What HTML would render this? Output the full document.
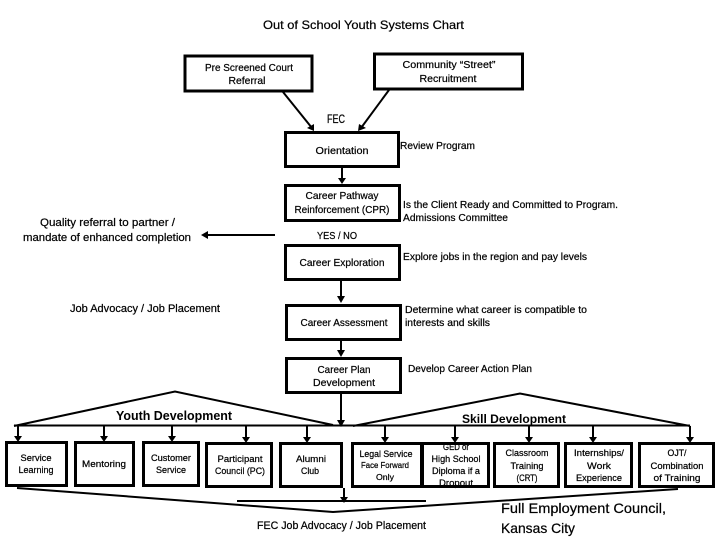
<!DOCTYPE html>
<html><head><meta charset="utf-8"><style>
html,body{margin:0;padding:0;background:#fff}
svg{display:block}
text{font-family:"Liberation Sans",sans-serif;fill:#000;stroke:#000;stroke-width:.22;font-size:10.500px}
.h{font-weight:bold;stroke-width:0}
.b{fill:#fff;stroke:#000;stroke-width:3}
.l{fill:none;stroke:#000;stroke-width:2}
.a{fill:#000}
</style></head><body>
<svg width="720" height="540" viewBox="0 0 720 540" xmlns="http://www.w3.org/2000/svg">
<text x="263" y="29" textLength="201" lengthAdjust="spacingAndGlyphs" style="font-size:12px">Out of School Youth Systems Chart</text>

<polyline class="l" points="283,92 312,128"/><polygon class="a" points="307,128 314,124 314,131"/>
<polyline class="l" points="389,90 361,128"/><polygon class="a" points="359,124 366,128 358,131"/>
<line class="l" x1="342" y1="167" x2="342" y2="181"/><polygon class="a" points="338,178 346,178 342,184"/>
<line class="l" x1="341" y1="280" x2="341" y2="300"/><polygon class="a" points="337,296 345,296 341,303"/>
<line class="l" x1="341" y1="340" x2="341" y2="354"/><polygon class="a" points="337,350 345,350 341,357"/>
<line class="l" x1="275" y1="235" x2="204" y2="235"/><polygon class="a" points="201,235 208,231 208,239"/>

<rect class="b" x="185" y="56" width="127" height="35"/>
<rect class="b" x="374.500" y="54" width="148" height="35"/>
<rect class="b" x="285.500" y="132.500" width="113" height="34"/>
<rect class="b" x="285.500" y="185.500" width="114" height="35"/>
<rect class="b" x="285.500" y="245.500" width="114" height="34"/>
<rect class="b" x="286.500" y="305.500" width="114" height="34"/>
<rect class="b" x="286.500" y="358.500" width="114" height="34"/>

<polyline class="l" points="14,426 175,391.500 333,425"/>
<polyline class="l" points="353,426 520,393.500 690,426"/>
<line class="l" x1="14" y1="425.500" x2="690" y2="425.500"/>
<line class="l" x1="341" y1="393" x2="341" y2="424"/><polygon class="a" points="337,420 345,420 341,427"/>

<g class="l">
<line x1="18" y1="426" x2="18" y2="440"/><line x1="104" y1="426" x2="104" y2="440"/><line x1="172" y1="426" x2="172" y2="440"/><line x1="246" y1="426" x2="246" y2="441"/><line x1="307" y1="426" x2="307" y2="441"/>
<line x1="385" y1="426" x2="385" y2="441"/><line x1="455" y1="426" x2="455" y2="441"/><line x1="529" y1="426" x2="529" y2="441"/><line x1="593" y1="426" x2="593" y2="441"/><line x1="690" y1="426" x2="690" y2="441"/>
</g>
<g class="a">
<polygon points="14,436 22,436 18,442"/><polygon points="100,436 108,436 104,442"/><polygon points="168,436 176,436 172,442"/><polygon points="242,437 250,437 246,443"/><polygon points="303,437 311,437 307,443"/>
<polygon points="381,437 389,437 385,443"/><polygon points="451,437 459,437 455,443"/><polygon points="525,437 533,437 529,443"/><polygon points="589,437 597,437 593,443"/><polygon points="686,437 694,437 690,443"/>
</g>

<rect class="b" x="6.500" y="442.500" width="60" height="43"/>
<rect class="b" x="75.500" y="442.500" width="58" height="43"/>
<rect class="b" x="143.500" y="442.500" width="55" height="43"/>
<rect class="b" x="206.500" y="443.500" width="65" height="43"/>
<rect class="b" x="280.500" y="443.500" width="61" height="43"/>
<rect class="b" x="352.500" y="443.500" width="69" height="43"/>
<rect class="b" x="422.500" y="443.500" width="66" height="43"/>
<rect class="b" x="494.500" y="443.500" width="64" height="43"/>
<rect class="b" x="565.500" y="443.500" width="66" height="43"/>
<rect class="b" x="639.500" y="443.500" width="74" height="43"/>

<polyline class="l" points="17,488 333,512 678,489"/>
<line class="l" x1="237" y1="501" x2="426" y2="501"/>
<line class="l" x1="344" y1="488" x2="344" y2="500"/><polygon class="a" points="340,497 348,497 344,503"/>

<g text-anchor="middle">
<text x="249" y="71" textLength="88" lengthAdjust="spacingAndGlyphs">Pre Screened Court</text>
<text x="247" y="84" textLength="37" lengthAdjust="spacingAndGlyphs">Referral</text>
<text x="449" y="68" textLength="93" lengthAdjust="spacingAndGlyphs">Community “Street”</text>
<text x="448" y="82" textLength="57" lengthAdjust="spacingAndGlyphs">Recruitment</text>
<text x="336" y="123" textLength="18" lengthAdjust="spacingAndGlyphs" style="font-size:12px">FEC</text>
<text x="342" y="154" textLength="53" lengthAdjust="spacingAndGlyphs">Orientation</text>
<text x="342" y="199" textLength="73" lengthAdjust="spacingAndGlyphs">Career Pathway</text>
<text x="342" y="213" textLength="95" lengthAdjust="spacingAndGlyphs">Reinforcement (CPR)</text>
<text x="337" y="239" textLength="40" lengthAdjust="spacingAndGlyphs">YES / NO</text>
<text x="342" y="266" textLength="85" lengthAdjust="spacingAndGlyphs">Career Exploration</text>
<text x="344" y="326" textLength="87" lengthAdjust="spacingAndGlyphs">Career Assessment</text>
<text x="344" y="373" textLength="53" lengthAdjust="spacingAndGlyphs">Career Plan</text>
<text x="344" y="386" textLength="62" lengthAdjust="spacingAndGlyphs">Development</text>

<text x="36" y="461" textLength="31" lengthAdjust="spacingAndGlyphs" style="font-size:9px">Service</text>
<text x="36" y="473" textLength="35" lengthAdjust="spacingAndGlyphs" style="font-size:9px">Learning</text>
<text x="104" y="467" textLength="44" lengthAdjust="spacingAndGlyphs" style="font-size:9px">Mentoring</text>
<text x="171" y="461" textLength="40" lengthAdjust="spacingAndGlyphs" style="font-size:9px">Customer</text>
<text x="171" y="473" textLength="30" lengthAdjust="spacingAndGlyphs" style="font-size:9px">Service</text>
<text x="240" y="462" textLength="45" lengthAdjust="spacingAndGlyphs" style="font-size:9px">Participant</text>
<text x="240" y="474" textLength="50" lengthAdjust="spacingAndGlyphs" style="font-size:9px">Council (PC)</text>
<text x="311" y="462" textLength="30" lengthAdjust="spacingAndGlyphs" style="font-size:9px">Alumni</text>
<text x="310" y="474" textLength="18" lengthAdjust="spacingAndGlyphs" style="font-size:9px">Club</text>

<text x="386" y="457" textLength="53" lengthAdjust="spacingAndGlyphs" style="font-size:9px">Legal Service</text>
<text x="385" y="468" textLength="48" lengthAdjust="spacingAndGlyphs" style="font-size:8px">Face Forward</text>
<text x="385" y="480" textLength="18" lengthAdjust="spacingAndGlyphs" style="font-size:8px">Only</text>
<text x="456" y="450" textLength="26" lengthAdjust="spacingAndGlyphs" style="font-size:9px">GED or</text>
<text x="456" y="462" textLength="49" lengthAdjust="spacingAndGlyphs" style="font-size:9px">High School</text>
<text x="456" y="474" textLength="48" lengthAdjust="spacingAndGlyphs" style="font-size:9px">Diploma if a</text>
<text x="456" y="486" textLength="34" lengthAdjust="spacingAndGlyphs" style="font-size:9px">Dropout</text>
<text x="527" y="456" textLength="43" lengthAdjust="spacingAndGlyphs" style="font-size:9px">Classroom</text>
<text x="527" y="469" textLength="33" lengthAdjust="spacingAndGlyphs" style="font-size:9px">Training</text>
<text x="527" y="481" textLength="21" lengthAdjust="spacingAndGlyphs" style="font-size:9px">(CRT)</text>
<text x="599" y="456" textLength="50" lengthAdjust="spacingAndGlyphs" style="font-size:9px">Internships/</text>
<text x="599" y="469" textLength="24" lengthAdjust="spacingAndGlyphs" style="font-size:9px">Work</text>
<text x="599" y="481" textLength="46" lengthAdjust="spacingAndGlyphs" style="font-size:9px">Experience</text>
<text x="677" y="456" textLength="19" lengthAdjust="spacingAndGlyphs" style="font-size:9px">OJT/</text>
<text x="677" y="469" textLength="53" lengthAdjust="spacingAndGlyphs" style="font-size:9px">Combination</text>
<text x="677" y="481" textLength="47" lengthAdjust="spacingAndGlyphs" style="font-size:9px">of Training</text>
</g>
<rect x="422.500" y="443.500" width="66" height="43" fill="none" stroke="#000" stroke-width="3"/>

<text x="40" y="226" textLength="135" lengthAdjust="spacingAndGlyphs" style="font-size:11px">Quality referral to partner /</text>
<text x="23" y="241" textLength="168" lengthAdjust="spacingAndGlyphs" style="font-size:11px">mandate of enhanced completion</text>
<text x="70" y="312" textLength="150" lengthAdjust="spacingAndGlyphs" style="font-size:11px">Job Advocacy / Job Placement</text>
<text x="400" y="149" textLength="75" lengthAdjust="spacingAndGlyphs">Review Program</text>
<text x="403" y="208" textLength="215" lengthAdjust="spacingAndGlyphs">Is the Client Ready and Committed to Program.</text>
<text x="403" y="221" textLength="105" lengthAdjust="spacingAndGlyphs">Admissions Committee</text>
<text x="403" y="260" textLength="184" lengthAdjust="spacingAndGlyphs">Explore jobs in the region and pay levels</text>
<text x="405" y="313" textLength="182" lengthAdjust="spacingAndGlyphs">Determine what career is compatible to</text>
<text x="405" y="326" textLength="85" lengthAdjust="spacingAndGlyphs">interests and skills</text>
<text x="408" y="372" textLength="124" lengthAdjust="spacingAndGlyphs">Develop Career Action Plan</text>

<text class="h" x="116" y="420" textLength="116" lengthAdjust="spacingAndGlyphs" style="font-size:13px">Youth Development</text>
<text class="h" x="462" y="423" textLength="104" lengthAdjust="spacingAndGlyphs" style="font-size:12px">Skill Development</text>
<text x="257" y="529" textLength="169" lengthAdjust="spacingAndGlyphs" style="font-size:11px">FEC Job Advocacy / Job Placement</text>
<text x="501" y="513" textLength="165" lengthAdjust="spacingAndGlyphs" style="font-size:14px">Full Employment Council,</text>
<text x="501" y="533" textLength="74" lengthAdjust="spacingAndGlyphs" style="font-size:14px">Kansas City</text>
</svg>
</body></html>
